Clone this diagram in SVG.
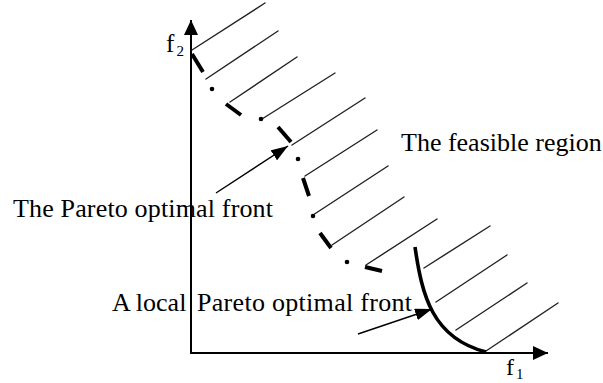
<svg xmlns="http://www.w3.org/2000/svg" width="603" height="383" viewBox="0 0 603 383">
<style>
.t{font-family:"Liberation Serif","Times New Roman",serif;font-size:26px;fill:#000}
.sub{font-size:15px}
.ax{stroke:#000;stroke-width:2;fill:none}
.h{stroke:#222;stroke-width:1.4;fill:none;stroke-linecap:round}
.pf{stroke:#000;stroke-width:4;fill:none;stroke-linecap:butt}
.dot{fill:#000}
.lf{stroke:#000;stroke-width:3.6;fill:none}
.arr{stroke:#000;stroke-width:1.4;fill:none}
</style>
<defs>
<marker id="axh" viewBox="0 0 15 14" refX="15" refY="7" markerWidth="15" markerHeight="14" markerUnits="userSpaceOnUse" orient="auto"><path d="M0,0 L15,7 L0,14 z" fill="#000"/></marker>
<marker id="ah" viewBox="0 0 17 12" refX="17" refY="6" markerWidth="17" markerHeight="12" markerUnits="userSpaceOnUse" orient="auto"><path d="M0,0 L17,6 L0,12 z" fill="#000"/></marker>
</defs>
<g id="axes">
<line class="ax" x1="191" y1="353" x2="191" y2="20" marker-end="url(#axh)"/>
<line class="ax" x1="190" y1="353" x2="548" y2="353" marker-end="url(#axh)"/>
<text class="t" x="166" y="52" style="font-size:25px">f</text><text class="t sub" x="176.5" y="56">2</text>
<text class="t" x="506" y="375" style="font-size:24px">f</text><text class="t sub" x="516" y="379">1</text>
</g>
<g id="feasible-region">
<line class="h" x1="192" y1="50" x2="265" y2="3"/>
<line class="h" x1="206" y1="79" x2="278" y2="31"/>
<line class="h" x1="230" y1="102" x2="297" y2="57"/>
<line class="h" x1="262" y1="119" x2="335" y2="73"/>
<line class="h" x1="292" y1="145" x2="365" y2="98"/>
<line class="h" x1="305" y1="176" x2="377" y2="130"/>
<line class="h" x1="313" y1="215" x2="388" y2="166"/>
<line class="h" x1="332" y1="245" x2="404" y2="197"/>
<line class="h" x1="366" y1="265" x2="437" y2="219"/>
<line class="h" x1="424" y1="268" x2="490" y2="226"/>
<line class="h" x1="436" y1="302" x2="507" y2="255"/>
<line class="h" x1="456" y1="330" x2="527" y2="283"/>
<line class="h" x1="486" y1="351" x2="558" y2="303"/>
<text class="t" x="401" y="151">The feasible region</text>
</g>
<g id="pareto-front">
<line class="pf" x1="192" y1="54" x2="203" y2="72"/>
<circle class="dot" cx="212" cy="89" r="2.3"/>
<line class="pf" x1="226" y1="104" x2="241" y2="115"/>
<circle class="dot" cx="261" cy="119" r="2.3"/>
<line class="pf" x1="278" y1="127" x2="291" y2="142"/>
<circle class="dot" cx="298" cy="159" r="2.3"/>
<line class="pf" x1="303" y1="178" x2="309" y2="196"/>
<circle class="dot" cx="313" cy="216" r="2.3"/>
<line class="pf" x1="320" y1="233" x2="331" y2="248"/>
<circle class="dot" cx="347" cy="262" r="2.3"/>
<line class="pf" x1="365" y1="267" x2="382" y2="271"/>
<text class="t" x="13" y="217" textLength="260" lengthAdjust="spacing">The Pareto optimal front</text>
</g>
<g id="local-front">
<path class="lf" d="M415,247 C422,295 432,338 486,352"/>
<text class="t" y="311"><tspan x="112">A local</tspan> <tspan x="197" textLength="215" lengthAdjust="spacing">Pareto optimal front</tspan></text>
</g>
<g id="connectors">
<line class="arr" x1="216" y1="193" x2="288" y2="146" marker-end="url(#ah)"/>
<line class="arr" x1="358" y1="334" x2="432" y2="309" marker-end="url(#ah)"/>
</g>
</svg>
